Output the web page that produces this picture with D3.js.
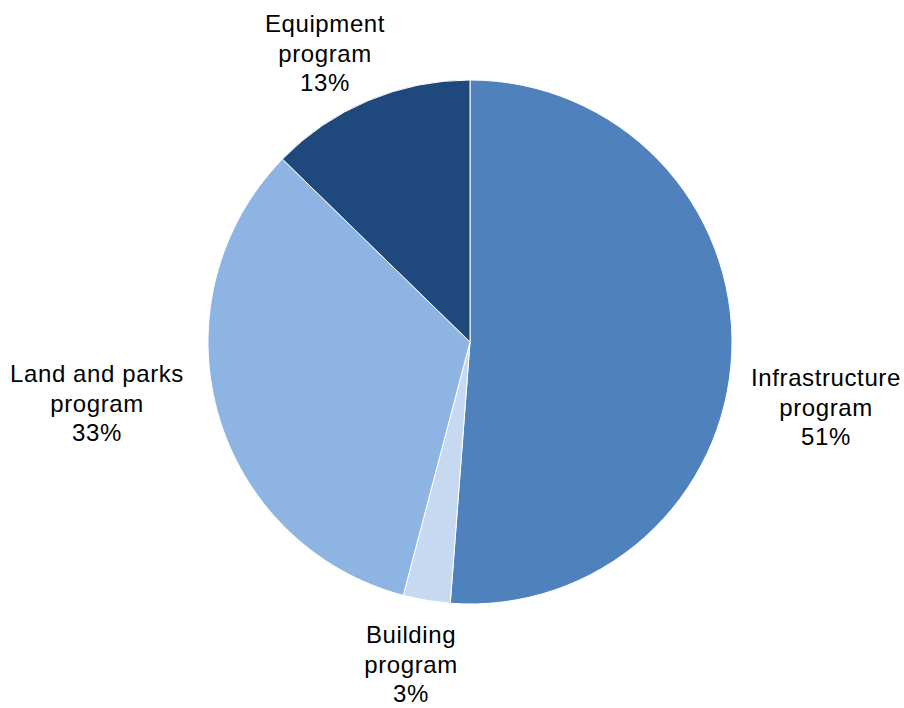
<!DOCTYPE html>
<html>
<head>
<meta charset="utf-8">
<script src="https://cdn.jsdelivr.net/npm/d3@7"></script>
<style>
  body { margin: 0; background: #fff; }
  text { font-family: "Liberation Sans", Arial, sans-serif; }
</style>
</head>
<body>
<div id="chart"></div>
<script>
// data, clockwise from 12 o'clock
var names = ['Infrastructure', 'Building', 'Land and parks', 'Equipment'];
var shares = [51.2, 2.9, 33.2, 12.7];
var pctLabels = ['51%', '3%', '33%', '13%'];
var colors = ['#4F81BD', '#C6D9F1', '#8EB4E3', '#1F497D'];

// label anchor points (centre x, first baseline y)
var labelPos = [[826, 386], [411, 643], [97, 382], [325, 32]];

var width = 904, height = 708;
var cx = 470, cy = 342, radius = 262;

var svg = d3.select('#chart')
  .append('svg')
  .attr('width', width)
  .attr('height', height);

var pie = d3.pie().sort(null).value(function(d) { return d; });
var arc = d3.arc().innerRadius(0).outerRadius(radius);

var g = svg.append('g')
  .attr('transform', 'translate(' + cx + ',' + cy + ')');

g.selectAll('path')
  .data(pie(shares))
  .enter()
  .append('path')
  .attr('d', arc)
  .attr('fill', function(d, i) { return colors[i]; })
  .attr('stroke', '#fff')
  .attr('stroke-width', 1);

// labels
names.forEach(function(n, i) {
  var lines = [n, 'program', pctLabels[i]];
  var t = svg.append('text')
    .attr('text-anchor', 'middle')
    .attr('font-size', 24)
    .attr('letter-spacing', 0.6)
    .attr('fill', '#000');
  lines.forEach(function(l, k) {
    t.append('tspan')
      .attr('x', labelPos[i][0])
      .attr('y', labelPos[i][1] + k * 29.5)
      .text(l);
  });
});
</script>
</body>
</html>
